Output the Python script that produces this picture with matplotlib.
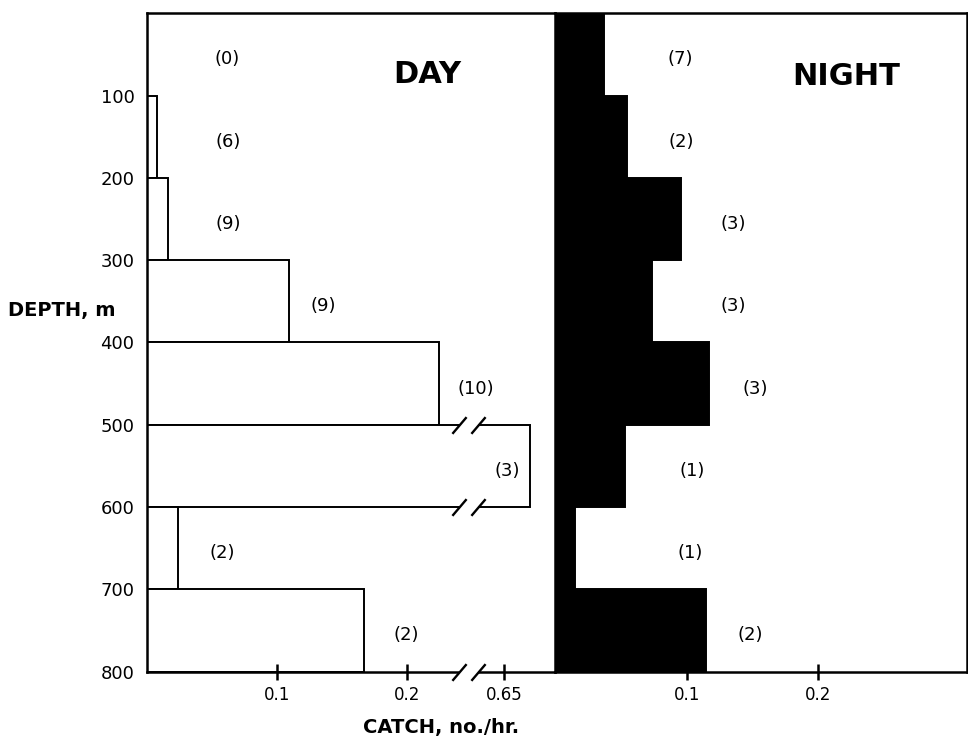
#!/usr/bin/env python3
"""Day / night catch by depth, drawn as two stepped histograms."""
import matplotlib
matplotlib.use('Agg')
import matplotlib.pyplot as plt
import numpy as np

plt.rcParams['font.family'] = ['DejaVu Sans']

# depth strata, m
depth_top = [0, 100, 200, 300, 400, 500, 600, 700]
depth_bottom = [100, 200, 300, 400, 500, 600, 700, 800]

# catch, no./hr.
day_catch = [0.0, 0.008, 0.016, 0.109, 0.225, 0.67, 0.024, 0.167]
night_catch = [0.037, 0.055, 0.096, 0.074, 0.117, 0.053, 0.0155, 0.1145]

# number of tows per stratum
day_tows = [0, 6, 9, 9, 10, 3, 2, 2]
night_tows = [7, 2, 3, 3, 3, 1, 1, 2]

depth_ticks = [100, 200, 300, 400, 500, 600, 700, 800]
day_xticks = [0.1, 0.2, 0.65]
day_xticklabels = ['0.1', '0.2', '0.65']
night_xticks = [0.1, 0.2]
night_xticklabels = ['0.1', '0.2']

# where the (n) labels sit, as fraction of panel width
day_label_x = [0.196, 0.199, 0.199, 0.431, 0.806, 0.882, 0.184, 0.635]
night_label_x = [0.303, 0.306, 0.432, 0.432, 0.485, 0.333, 0.328, 0.473]

# broken x axis on the day panel: 0.24 .. 0.63 squeezed together
BREAK_V = [-1.0, 0.24, 0.63, 2.0]
BREAK_U = [-1.0, 0.24, 0.255, 1.625]


def forward(v):
    return np.interp(v, BREAK_V, BREAK_U)


def inverse(u):
    return np.interp(u, BREAK_U, BREAK_V)


def style_axis(ax, xticks, xticklabels):
    for side in ('top', 'bottom', 'left', 'right'):
        ax.spines[side].set_linewidth(1.8)
    ax.set_xticks(xticks)
    ax.set_xticklabels(xticklabels)
    ax.tick_params(axis='x', direction='inout', length=11, width=1.8,
                   pad=5, labelsize=12)
    ax.tick_params(axis='y', length=0, pad=9, labelsize=13)
    ax.set_ylim(800, 0)


def label_counts(ax, counts, xfrac):
    trans = ax.get_yaxis_transform()
    for n, x, top, bot in zip(counts, xfrac, depth_top, depth_bottom):
        ax.text(x, (top + bot) / 2 + 6, '({})'.format(n), transform=trans,
                ha='center', va='center', fontsize=13)


fig = plt.figure(figsize=(9.68, 7.47), dpi=100)
ax_day = fig.add_axes([0.1519, 0.1008, 0.4215, 0.8814])
ax_night = fig.add_axes([0.5733, 0.1008, 0.4256, 0.8814])

mids = [(t + b) / 2 for t, b in zip(depth_top, depth_bottom)]
heights = [b - t for t, b in zip(depth_top, depth_bottom)]

# DAY
ax_day.set_xscale('function', functions=(forward, inverse))
ax_day.barh(mids, day_catch, height=heights, color='white',
            edgecolor='black', linewidth=1.4)
ax_day.set_xlim(0, 0.689)
style_axis(ax_day, day_xticks, day_xticklabels)
ax_day.spines['right'].set_visible(False)
ax_day.set_yticks(depth_ticks)
ax_day.set_yticklabels([str(d) for d in depth_ticks])
ax_day.set_ylabel('DEPTH, m', rotation=0, ha='right', va='center',
                  fontsize=14, fontweight='bold')
ax_day.yaxis.set_label_coords(-0.078, 0.549)
label_counts(ax_day, day_tows, day_label_x)
ax_day.text(0.686, 0.907, 'DAY', transform=ax_day.transAxes, ha='center',
            va='center', fontsize=22, fontweight='bold')

# break marks on the axis and across the long 500-600 m bar
slash = [(-0.85, -1.0), (0.85, 1.0)]
for y in (500, 600, 800):
    ax_day.plot([0.24, 0.63], [y, y], color='white', lw=4,
                solid_capstyle='butt', zorder=3, clip_on=False)
    ax_day.plot([0.24, 0.63], [y, y], linestyle='none', marker=slash,
                markersize=12, markeredgewidth=1.7, color='black',
                zorder=4, clip_on=False)

# NIGHT
ax_night.barh(mids, night_catch, height=heights, color='black',
              edgecolor='black', linewidth=1.4)
ax_night.set_xlim(0, 0.313)
style_axis(ax_night, night_xticks, night_xticklabels)
ax_night.set_yticks([])
label_counts(ax_night, night_tows, night_label_x)
ax_night.text(0.708, 0.904, 'NIGHT', transform=ax_night.transAxes,
              ha='center', va='center', fontsize=22, fontweight='bold')

fig.text(441 / 968, 1 - 728 / 747, 'CATCH, no./hr.', ha='center',
         va='center', fontsize=14, fontweight='bold')

fig.savefig('out.png', dpi=100)
